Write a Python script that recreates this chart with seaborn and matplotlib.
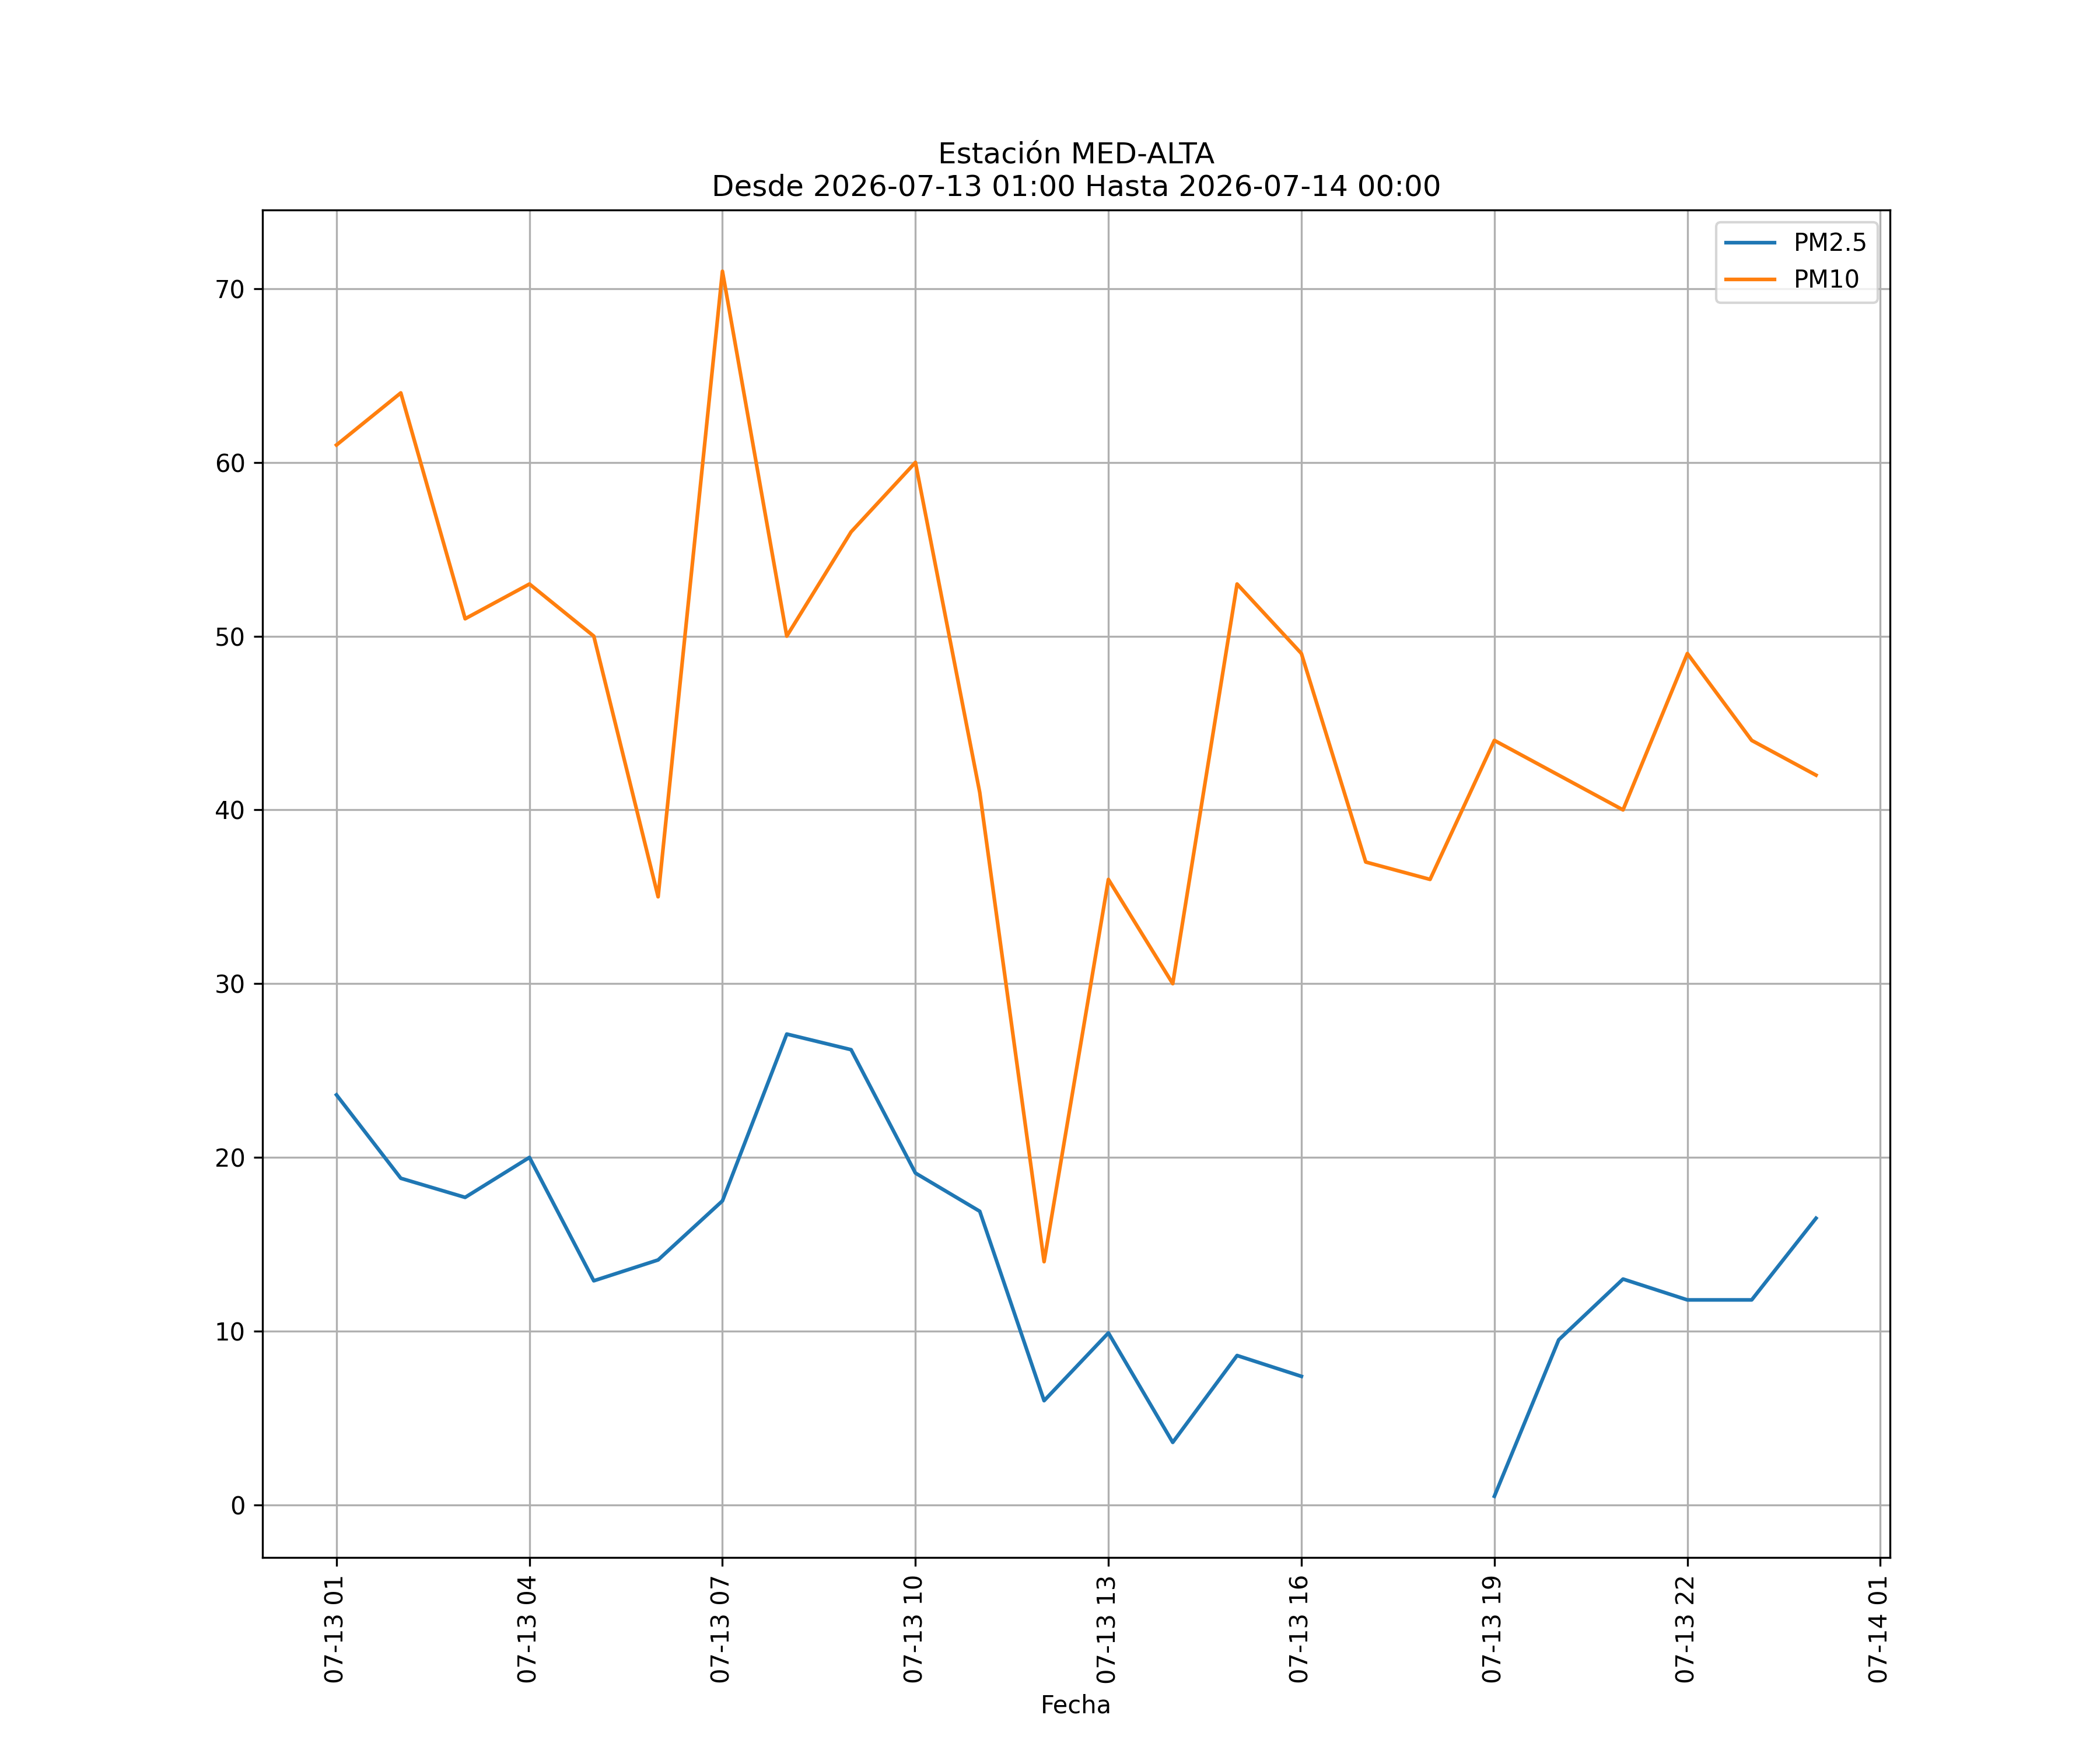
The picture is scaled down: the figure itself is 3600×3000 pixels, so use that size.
import numpy as np
import pandas as pd
import seaborn as sns
import matplotlib
matplotlib.use("Agg")
import matplotlib.pyplot as plt
import matplotlib.dates as mdates

# Datos horarios de la estación
fechas = pd.date_range("2026-07-13 01:00", "2026-07-14 00:00", freq="h")
pm25 = [23.6, 18.8, 17.7, 20.0, 12.9, 14.1, 17.5, 27.1, 26.2, 19.1, 16.9, 6.0,
        9.9, 3.6, 8.6, 7.4, np.nan, np.nan, 0.5, 9.5, 13.0, 11.8, 11.8, 16.5]
pm10 = [61, 64, 51, 53, 50, 35, 71, 50, 56, 60, 41, 14,
        36, 30, 53, 49, 37, 36, 44, 42, 40, 49, 44, 42]

df = pd.DataFrame({"Fecha": fechas, "PM2.5": pm25, "PM10": pm10})
largo = df.melt(id_vars="Fecha", var_name="contaminante", value_name="valor")
# tramos para que los huecos (NaN) corten la línea
largo["tramo"] = largo.groupby("contaminante")["valor"].transform(lambda s: s.isna().cumsum())
largo = largo.dropna()

fig, ax = plt.subplots(figsize=(12, 10), dpi=300)
sns.lineplot(data=largo, x="Fecha", y="valor", hue="contaminante",
             units="tramo", estimator=None, ax=ax,
             palette=["#1f77b4", "#ff7f0e"], hue_order=["PM2.5", "PM10"])

ax.xaxis.set_major_locator(mdates.HourLocator(byhour=range(1, 24, 3)))
ax.xaxis.set_major_formatter(mdates.DateFormatter("%m-%d %H"))
plt.xticks(rotation=90)
ax.set_xlabel("Fecha")
ax.set_ylabel("")
ax.set_title("Estación MED-ALTA\nDesde 2026-07-13 01:00 Hasta 2026-07-14 00:00")
ax.grid(True)
leg = ax.get_legend()
leg.set_title(None)

fig.savefig("out.png", dpi=300)
